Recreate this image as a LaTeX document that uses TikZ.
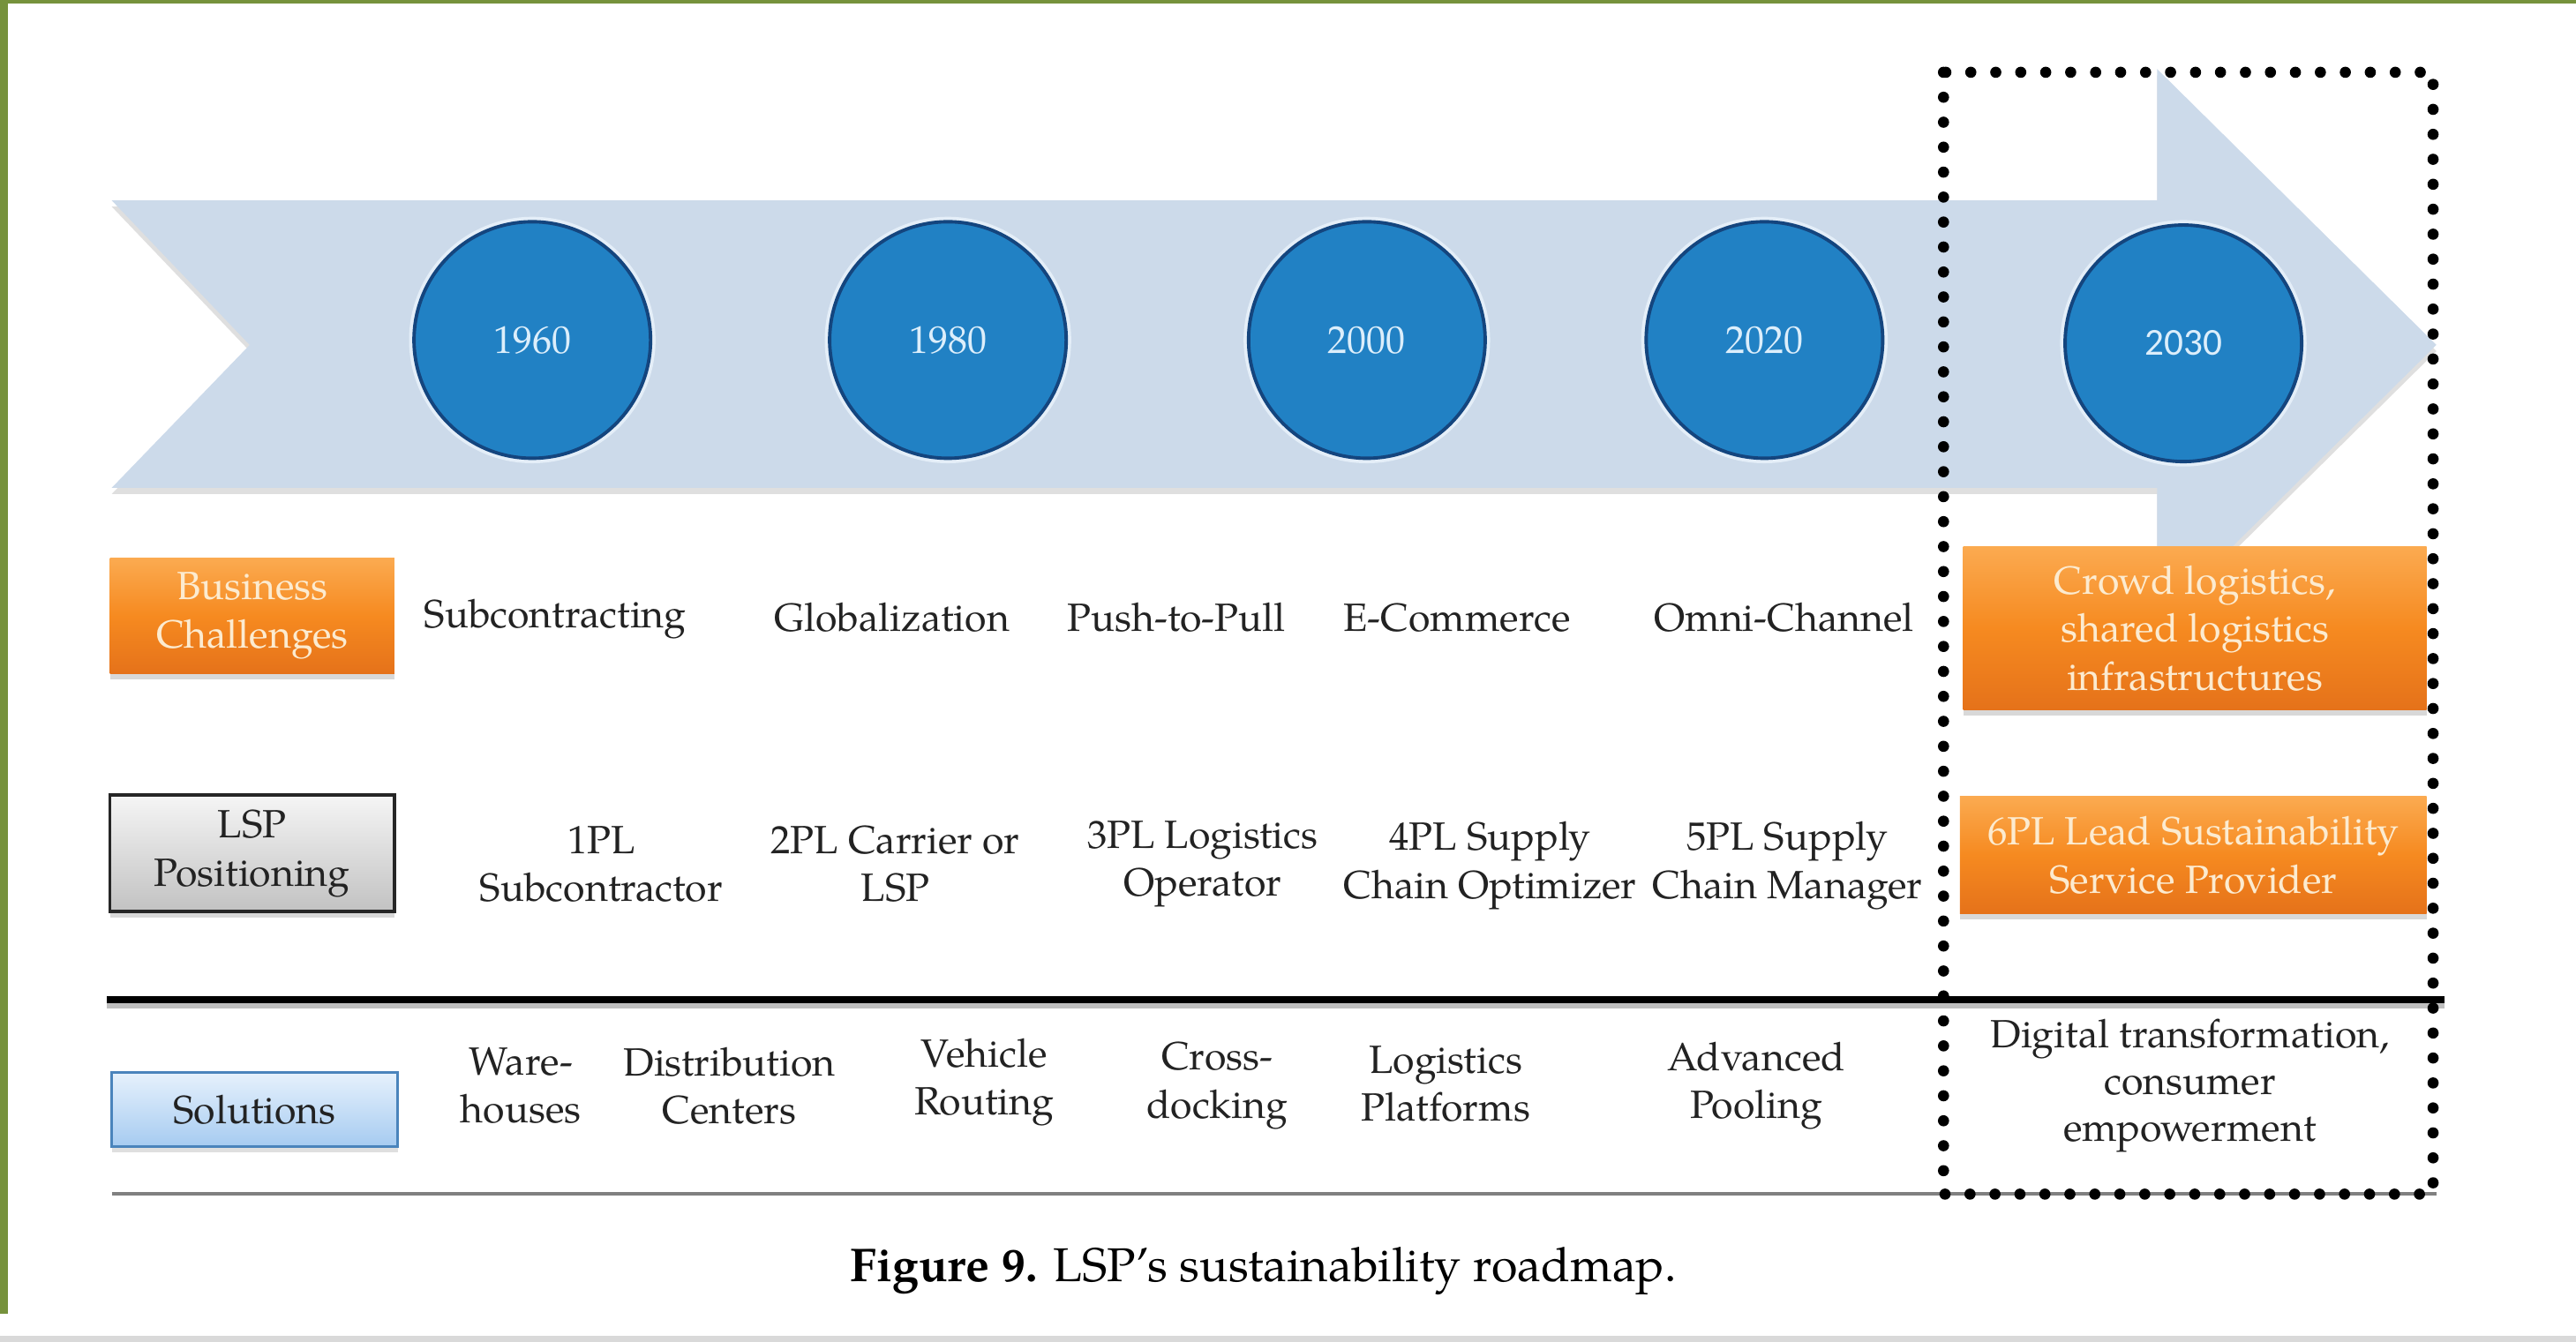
\documentclass[tikz,border=0pt]{standalone}
\usepackage{fontspec}
\setmainfont{texgyrepagella}[Extension=.otf,UprightFont=*-regular,BoldFont=*-bold,ItalicFont=*-italic,BoldItalicFont=*-bolditalic]
\newfontfamily\carlito{Carlito}
\usetikzlibrary{shadows}
\definecolor{framegreen}{HTML}{76923C}
\definecolor{arrowfill}{HTML}{CCDAEA}
\definecolor{circfill}{HTML}{2181C4}
\definecolor{circline}{HTML}{14457E}
\definecolor{circhalo}{HTML}{E4EEF8}
\definecolor{circtext}{HTML}{DCEEFB}
\definecolor{orgtop}{HTML}{FBAA50}
\definecolor{orgmid}{HTML}{F68A20}
\definecolor{orgbot}{HTML}{E5721A}
\definecolor{orgtext}{HTML}{FCEBD0}
\definecolor{graytop}{HTML}{F5F5F5}
\definecolor{graybot}{HTML}{C2C2C2}
\definecolor{soltop}{HTML}{E6F1FC}
\definecolor{solbot}{HTML}{A6CBF1}
\definecolor{solline}{HTML}{4A84BC}
\definecolor{textc}{HTML}{222222}
\begin{document}
\begin{tikzpicture}[x=0.018616cm,y=-0.018616cm,
  yearc/.style={circle,draw=circline,line width=1.1pt,fill=circfill,minimum size=144*0.018616cm,inner sep=0,text=circtext,font=\fontsize{12.5}{14}\selectfont,
    preaction={draw=circhalo,line width=3.2pt}},
  rowtext/.style={align=center,inner sep=0,text=textc,font=\fontsize{12.7}{15.4}\selectfont},
  orangebox/.style={rectangle,inner sep=0,align=center,text=orgtext,font=\fontsize{12.7}{15.6}\selectfont,
    top color=orgtop,bottom color=orgbot,middle color=orgmid,
    drop shadow={opacity=0.3,shadow xshift=0pt,shadow yshift=-2pt}},
  graybox/.style={rectangle,inner sep=0,align=center,text=textc,font=\fontsize{12.7}{15.6}\selectfont,
    top color=graytop,bottom color=graybot,draw=black!85,line width=1pt,
    drop shadow={opacity=0.3,shadow xshift=0pt,shadow yshift=-2pt}},
  solbox/.style={rectangle,inner sep=0,align=center,text=textc,font=\fontsize{12.7}{15.6}\selectfont,
    top color=soltop,bottom color=solbot,draw=solline,line width=1pt,
    drop shadow={opacity=0.25,shadow xshift=0pt,shadow yshift=-2pt}},
  dotbox/.style={line width=3.6pt,dash pattern=on 0pt off 8.05pt,line cap=round,draw=black}
]
\useasboundingbox (0,0) rectangle (1568,817);
\fill[white] (0,0) rectangle (1568,817);
% frame
\fill[framegreen] (0,0) rectangle (5,800);
\fill[framegreen] (0,0) rectangle (1568,2);
\fill[black!15] (0,813) rectangle (1568,817);

% timeline arrow
\fill[arrowfill,drop shadow={opacity=0.25,shadow xshift=0pt,shadow yshift=-2pt}]
  (68,122) -- (1313,122) -- (1313,42) -- (1483,210) -- (1313,378) -- (1313,297) -- (68,297) -- (152,210) -- cycle;

% year circles
\node[yearc] (y1960) at (324,207) {1960};
\node[yearc] (y1980) at (577,207) {1980};
\node[yearc] (y2000) at (832,207) {2000};
\node[yearc] (y2020) at (1074,207) {2020};
\node[yearc,font=\carlito\fontsize{12.3}{14}\selectfont] (y2030) at (1329,209) {2030};

% rules
\fill[black!25] (65,610) rectangle (1488,614);
\draw[line width=2.4pt,black] (65,608.5) -- (1488,608.5);
\draw[line width=1.1pt,black!50] (68,727) -- (1483,727);

% left labels
\node[orangebox,minimum width=173*0.018616cm,minimum height=70*0.018616cm] (bc) at (153.5,375) {Business\\Challenges};
\node[graybox,minimum width=173*0.018616cm,minimum height=71*0.018616cm] (lsp) at (153.5,519.5) {LSP\\Positioning};
\node[solbox,minimum width=174*0.018616cm,minimum height=45*0.018616cm] (sol) at (155,675.5) {Solutions};

% row 1: business challenges
\node[rowtext] (c1) at (338,377) {Subcontracting};
\node[rowtext] (c2) at (543,376) {Globalization};
\node[rowtext] (c3) at (716,376) {Push-to-Pull};
\node[rowtext] (c4) at (887,376) {E-Commerce};
\node[rowtext] (c5) at (1086,376) {Omni-Channel};

% row 2: LSP positioning
\node[rowtext] (p1) at (366,526) {1PL\\Subcontractor};
\node[rowtext] (p2) at (545,526) {2PL Carrier or\\LSP};
\node[rowtext] (p3) at (732,526) {3PL Logistics\\Operator};
\node[rowtext] (p4) at (907,527) {4PL Supply\\Chain Optimizer};
\node[rowtext] (p5) at (1088,527) {5PL Supply\\Chain Manager};

% row 3: solutions
\node[rowtext] (s1) at (317,661) {Ware-\\houses};
\node[rowtext] (s2) at (444,661) {Distribution\\Centers};
\node[rowtext] (s3) at (599,659) {Vehicle\\Routing};
\node[rowtext] (s4) at (741,661) {Cross-\\docking};
\node[rowtext] (s5) at (880,660) {Logistics\\Platforms};
\node[rowtext] (s6) at (1069,661) {Advanced\\Pooling};
\node[rowtext,font=\fontsize{12.7}{15.1}\selectfont] (s7) at (1333,661) {Digital transformation,\\consumer\\empowerment};

% 2030 boxes
\node[orangebox,minimum width=282*0.018616cm,minimum height=99*0.018616cm] (crowd) at (1336,382.5) {Crowd logistics,\\shared logistics\\infrastructures};
\node[orangebox,minimum width=284*0.018616cm,minimum height=71*0.018616cm] (sixpl) at (1335,520.5) {6PL Lead Sustainability\\Service Provider};

% dotted highlight
\draw[dotbox] (1183,44) rectangle (1481,727);

% caption
\node[inner sep=0,text=black,font=\fontsize{15.3}{17}\selectfont] (cap) at (769,774) {\textbf{Figure 9.} LSP’s sustainability roadmap.};
\end{tikzpicture}
\end{document}
